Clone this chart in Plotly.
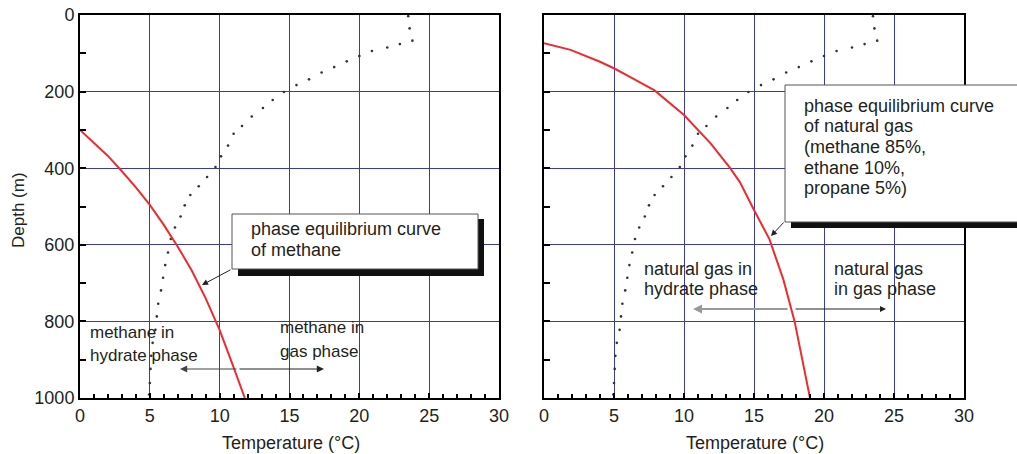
import plotly.graph_objects as go
from plotly.subplots import make_subplots

# ---------------- data ----------------
profile_temp = [23.5, 23.6, 23.8, 22.9, 22.0, 20.9, 20.0, 19.1, 18.2, 17.3, 16.4, 15.5,
                14.6, 13.8, 13.1, 12.3, 11.6, 11.0, 10.6, 10.1, 9.7, 9.1, 8.5, 7.9, 7.5,
                7.2, 6.8, 6.5, 6.3, 6.1, 5.95, 5.8, 5.6, 5.5, 5.4, 5.2, 5.1, 5.05, 5.0, 4.95]
profile_depth = [3, 35, 67, 76, 85, 94, 107, 121, 136, 150, 168, 183, 201, 222, 243, 265,
                 290, 310, 341, 369, 397, 423, 447, 470, 497, 526, 555, 585, 620, 653, 686,
                 719, 754, 787, 822, 856, 890, 924, 961, 991]

methane_temp = [0, 1, 2, 3, 4, 5, 6, 7, 8, 9, 10, 11, 11.8]
methane_depth = [300, 333, 368, 408, 450, 496, 548, 605, 667, 740, 823, 920, 1000]

natgas_temp = [0, 1.9, 4.0, 5.1, 6.1, 7.9, 10.0, 11.9, 13.3, 14.0, 15.0, 16.1, 17.1, 17.9, 19.0]
natgas_depth = [74, 91, 122, 141, 161, 197, 261, 335, 400, 437, 509, 585, 691, 800, 1000]

x_ticks = [0, 5, 10, 15, 20, 25, 30]
y_ticks = [0, 200, 400, 600, 800, 1000]

# ---------------- layout helpers ----------------
W, H = 1017, 454
def px(x):
    return x / W
def py(y):
    return 1 - y / H

FONT = "Arial, Liberation Sans, sans-serif"
TXT = "#231f20"
GRID = "#3a3d9e"
RED = "#ee2b2e"

fig = make_subplots(rows=1, cols=2)

for col, (rt, rd) in enumerate([(methane_temp, methane_depth), (natgas_temp, natgas_depth)], start=1):
    fig.add_trace(go.Scatter(x=profile_temp, y=profile_depth, mode="markers",
                             marker=dict(size=2.6, color="#333333"), showlegend=False,
                             hoverinfo="skip"), row=1, col=col)
    fig.add_trace(go.Scatter(x=rt, y=rd, mode="lines", line=dict(color=RED, width=2),
                             showlegend=False), row=1, col=col)

xdoms = [[px(80), px(499)], [px(544), px(964)]]
ydom = [py(398), py(15)]

for i, name in enumerate(["xaxis", "xaxis2"]):
    fig.layout[name].update(
        domain=xdoms[i], range=[0, 30], tickvals=x_ticks, ticktext=[str(v) for v in x_ticks],
        automargin=False,
        showgrid=True, gridcolor=GRID, gridwidth=1, zeroline=False,
        showline=True, linecolor="black", linewidth=2, mirror=True,
        ticks="inside", ticklen=5, tickwidth=1.5, tickcolor="black",
        minor=dict(ticks="inside", dtick=1, ticklen=4, tickwidth=1.5, tickcolor="black",
                   showgrid=False, gridcolor=GRID),
        tickfont=dict(family=FONT, size=18, color=TXT),
    )
for i, name in enumerate(["yaxis", "yaxis2"]):
    fig.layout[name].update(
        domain=ydom, range=[1000, 0], tickvals=y_ticks, ticktext=[str(v) for v in y_ticks],
        automargin=False,
        showgrid=True, gridcolor=GRID, gridwidth=1, zeroline=False,
        showline=True, linecolor="black", linewidth=2, mirror=True,
        ticks="inside", ticklen=6, tickwidth=1.5, tickcolor="black",
        minor=dict(ticks="inside", tickvals=[100, 300, 500, 700, 900], ticklen=6, tickwidth=1.5,
                   tickcolor="black", showgrid=False, gridcolor=GRID),
        tickfont=dict(family=FONT, size=18, color=TXT),
        showticklabels=(i == 0),
    )

shapes = []
def rect(x0, y0, x1, y1, fill, line_color=None, lw=0):
    shapes.append(dict(type="rect", xref="paper", yref="paper",
                       x0=px(x0), x1=px(x1), y0=py(y1), y1=py(y0),
                       fillcolor=fill, layer="above",
                       line=dict(color=line_color or fill, width=lw)))

# left callout
rect(238, 219, 484, 276, "#111111")
rect(232, 214, 478, 269, "white", "#555555", 1)
# right callout
rect(791, 91, 1040, 228, "#111111")
rect(785, 85, 1034, 222, "white", "#555555", 1)
fig.update_layout(shapes=shapes)

ann = []
def text(x, y, s, size=18, xanchor="left"):
    ann.append(dict(x=px(x), y=py(y), xref="paper", yref="paper", text=s, showarrow=False,
                    xanchor=xanchor, yanchor="middle", font=dict(family=FONT, size=size, color=TXT)))
def arrow(tx, ty, fx, fy, color="#222222", width=1, size=1.2):
    ann.append(dict(x=px(tx), y=py(ty), xref="paper", yref="paper", text="",
                    showarrow=True, ax=fx - tx, ay=fy - ty, arrowhead=2, arrowsize=size,
                    arrowwidth=width, arrowcolor=color))

# left box text
text(249, 229, "phase equilibrium curve")
text(249, 250, "of methane")
arrow(202, 285, 232, 269)
# left region labels
text(88, 332, "methane in", 17)
text(88, 355, "hydrate phase", 17)
text(278, 327, "methane in", 17)
text(278, 351, "gas phase", 17)
arrow(180, 369, 238, 369, color="#444444", width=1.2)
arrow(324, 369, 238, 369, color="#222222", width=1.2)

# right box text
for yy, s in zip([106, 126, 147, 168, 188],
                 ["phase equilibrium curve", "of natural gas", "(methane 85%,",
                  "ethane 10%,", "propane 5%)"]):
    text(802, yy, s)
arrow(771, 236, 785, 221)
# right region labels
text(642, 269, "natural gas in")
text(642, 289, "hydrate phase")
text(832, 269, "natural gas")
text(832, 289, "in gas phase")
arrow(693, 309, 789, 309, color="#999999", width=2, size=0.9)
arrow(886, 309, 794, 309, color="#222222", width=1)

# axis titles
text(291, 443, "Temperature (°C)", 18, "center")
text(755, 443, "Temperature (°C)", 18, "center")
ann.append(dict(x=px(18), y=py(210), xref="paper", yref="paper", text="Depth (m)",
                showarrow=False, textangle=-90, xanchor="center", yanchor="middle",
                font=dict(family=FONT, size=17, color=TXT)))

fig.update_layout(annotations=ann, width=W, height=H,
                  margin=dict(l=0, r=0, t=0, b=0),
                  paper_bgcolor="white", plot_bgcolor="white", showlegend=False)

fig.write_html("out.html")
